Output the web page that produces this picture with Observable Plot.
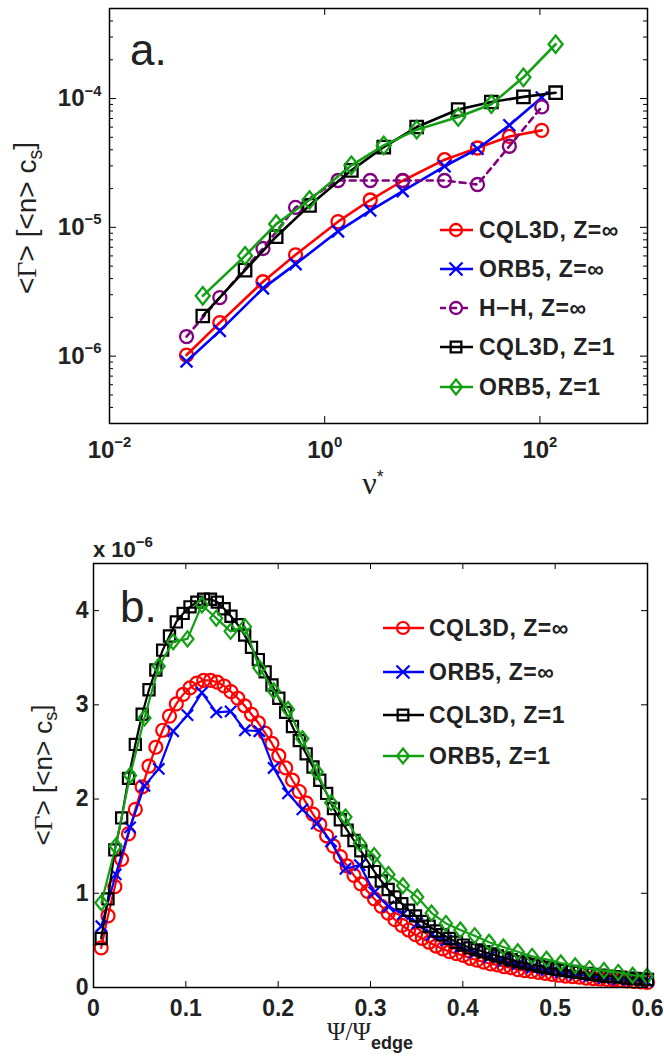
<!DOCTYPE html>
<html><head><meta charset="utf-8">
<script src="https://cdn.jsdelivr.net/npm/d3@7"></script>
<script src="https://cdn.jsdelivr.net/npm/@observablehq/plot@0.6"></script>
<style>
body{margin:0;background:#fff;}
#chart svg{display:block;}
</style></head><body><div id="chart"></div>
<script>
// ---------- Panel a data (log-log) ----------
const nuStar = [0.052, 0.106, 0.267, 0.536, 1.33, 2.65, 5.31, 13.0, 26.3, 52.0, 104];
const nuStarZ1 = [0.0736, 0.182, 0.354, 0.722, 1.77, 3.54, 7.16, 17.4, 35.4, 70.3, 140];
const cql3dInfA = [1.02e-6, 1.82e-6, 3.78e-6, 6.12e-6, 1.107e-5, 1.63e-5, 2.30e-5, 3.35e-5, 4.13e-5, 5.08e-5, 5.66e-5];
const orb5InfA = [9.1e-7, 1.57e-6, 3.36e-6, 5.18e-6, 9.31e-6, 1.35e-5, 1.91e-5, 2.98e-5, 4.07e-5, 6.2e-5, 1.02e-4];
const hhInfA = [1.42e-6, 2.85e-6, 6.85e-6, 1.43e-5, 2.31e-5, 2.31e-5, 2.31e-5, 2.31e-5, 2.15e-5, 4.26e-5, 8.61e-5];
const cql3dZ1A = [2.05e-6, 4.65e-6, 8.46e-6, 1.48e-5, 2.77e-5, 4.2e-5, 6.01e-5, 8.21e-5, 9.4e-5, 1.03e-4, 1.11e-4];
const orb5Z1A = [2.94e-6, 6.01e-6, 1.06e-5, 1.63e-5, 3.03e-5, 4.33e-5, 5.73e-5, 7.19e-5, 9.03e-5, 1.46e-4, 2.64e-4];
const aXTicks = [0.01, 1, 100];
const aYTicks = [1e-6, 1e-5, 1e-4];
const aYMinor = [3e-7,4e-7,5e-7,6e-7,7e-7,8e-7,9e-7,2e-6,3e-6,4e-6,5e-6,6e-6,7e-6,8e-6,9e-6,2e-5,3e-5,4e-5,5e-5,6e-5,7e-5,8e-5,9e-5,2e-4,3e-4,4e-4,5e-4];

// ---------- Panel b data (units of 1e-6) ----------
const psiFine = [0.0083,0.0157,0.0231,0.0305,0.0379,0.0453,0.0527,0.0601,0.0675,0.0749,
0.0823,0.0897,0.0971,0.1045,0.1119,0.1193,0.1267,0.1341,0.1415,0.1489,
0.1563,0.1637,0.1711,0.1785,0.1859,0.1933,0.2007,0.2081,0.2155,0.2229,
0.2303,0.2377,0.2451,0.2525,0.2599,0.2673,0.2747,0.2821,0.2895,0.2969,
0.3043,0.3117,0.3191,0.3265,0.3339,0.3413,0.3487,0.3561,0.3635,0.3709,
0.3783,0.3857,0.3931,0.4005,0.4079,0.4153,0.4227,0.4301,0.4375,0.4449,
0.4523,0.4597,0.4671,0.4745,0.4819,0.4893,0.4967,0.5041,0.5115,0.5189,
0.5263,0.5337,0.5411,0.5485,0.5559,0.5633,0.5707,0.5781,0.5855,0.5929,0.6];
const cql3dInfB = [0.42,0.76,1.07,1.36,1.63,1.89,2.13,2.35,2.55,2.73,
2.88,3.01,3.11,3.18,3.23,3.26,3.26,3.24,3.20,3.14,
3.07,2.99,2.90,2.81,2.70,2.59,2.46,2.33,2.20,2.08,
1.96,1.84,1.73,1.61,1.50,1.39,1.29,1.19,1.10,1.02,
0.94,0.86,0.79,0.72,0.66,0.61,0.56,0.52,0.48,0.44,
0.41,0.38,0.36,0.34,0.31,0.29,0.27,0.25,0.24,0.22,
0.21,0.19,0.18,0.17,0.16,0.15,0.14,0.13,0.12,0.115,
0.11,0.10,0.095,0.09,0.085,0.08,0.075,0.07,0.065,0.06,0.055];
const cql3dZ1B = [0.52,0.94,1.46,1.80,2.22,2.58,2.90,3.16,3.37,3.58,
3.73,3.88,3.97,4.04,4.09,4.12,4.12,4.09,4.02,3.94,
3.85,3.74,3.61,3.48,3.35,3.21,3.07,2.92,2.77,2.62,
2.48,2.34,2.20,2.06,1.90,1.78,1.67,1.56,1.45,1.34,
1.23,1.13,1.04,0.96,0.89,0.82,0.76,0.70,0.65,0.60,
0.56,0.52,0.48,0.45,0.42,0.40,0.38,0.355,0.335,0.315,
0.295,0.275,0.26,0.245,0.23,0.215,0.20,0.19,0.18,0.17,
0.16,0.15,0.14,0.13,0.12,0.115,0.11,0.10,0.095,0.09,0.085];
const psiCoarse = [0.0085,0.0241,0.0396,0.0552,0.0707,0.0863,0.1018,0.1174,0.1329,0.1485,
0.1640,0.1796,0.1951,0.2107,0.2262,0.2418,0.2573,0.2729,0.2884,0.3040,
0.3195,0.3351,0.3506,0.3662,0.3817,0.3973,0.4128,0.4284,0.4439,0.4595,
0.4750,0.4906,0.5061,0.5217,0.5372,0.5528,0.5683,0.5839,0.5994];
const orb5InfB = [0.65,1.20,1.70,2.14,2.32,2.72,2.89,3.13,2.92,2.93,
2.73,2.72,2.33,2.06,1.89,1.74,1.55,1.26,1.30,1.01,
0.86,0.78,0.68,0.56,0.50,0.43,0.37,0.32,0.28,0.245,
0.21,0.185,0.16,0.14,0.12,0.10,0.085,0.075,0.065];
const orb5Z1B = [0.90,1.50,2.25,2.86,3.41,3.67,3.70,4.06,3.92,3.78,
3.83,3.39,3.15,2.95,2.64,2.29,1.96,1.81,1.53,1.40,
1.20,1.08,0.96,0.79,0.68,0.61,0.55,0.48,0.43,0.38,
0.33,0.30,0.26,0.23,0.20,0.18,0.16,0.13,0.12];
const bXTicks = [0, 0.1, 0.2, 0.3, 0.4, 0.5, 0.6];
const bYTicks = [0, 1, 2, 3, 4];

const names = ["CQL3D, Z=\u221e", "ORB5, Z=\u221e", "H\u2212H, Z=\u221e", "CQL3D, Z=1", "ORB5, Z=1"];
const RED = "#ff0000", BLUE = "#0000ff", PURPLE = "#800080", BLACK = "#000000", GREEN = "#14a014";

const diamond = {draw(ctx, size) {
  const r = Math.sqrt(size / Math.PI), h = r * 1.25, w = r * 1.0;
  ctx.moveTo(0, -h); ctx.lineTo(w, 0); ctx.lineTo(0, h); ctx.lineTo(-w, 0); ctx.closePath();
}};

const zip = (xs, ys) => xs.map((x, i) => ({x, y: ys[i]}));
const FONT = "'Liberation Sans', Arial, Helvetica, sans-serif";
const SERIF = "'Liberation Serif', 'Times New Roman', serif";
const W = 664;

function supify(svg) {
  d3.select(svg).selectAll("text").each(function() {
    const m = /^10\^(-?\d+)$/.exec(this.textContent);
    if (m) {
      const s = d3.select(this); s.text("");
      s.append("tspan").text("10");
      s.append("tspan").attr("dy", "-0.72em").attr("font-size", "0.62em").text(m[1].replace("-", "\u2212"));
    }
  });
}

function seriesMarks(list, sw, msw) {
  const out = [];
  for (const s of list) {
    out.push(Plot.line(s.data, {x: "x", y: "y", stroke: s.color, strokeWidth: sw, strokeDasharray: s.dash || null}));
    out.push(Plot.dot(s.data, {x: "x", y: "y", symbol: s.symbol, r: s.r, stroke: s.color, fill: "none", strokeWidth: msw}));
  }
  return out;
}

function legend(svg, list, o) {
  const g = d3.select(svg).append("g").attr("text-anchor", "start");
  list.forEach((s, i) => {
    const y = o.ys[i];
    g.append("line").attr("x1", o.x0).attr("x2", o.x1).attr("y1", y).attr("y2", y)
      .attr("stroke", s.color).attr("stroke-width", o.sw).attr("stroke-dasharray", s.dash || null);
    const sym = s.symbol === "circle" ? d3.symbolCircle : s.symbol === "times" ? d3.symbolTimes : s.symbol === "square" ? d3.symbolSquare : s.symbol;
    g.append("path").attr("d", d3.symbol(sym, Math.PI * o.mr * o.mr)()).attr("transform", `translate(${o.xm},${y})`)
      .attr("fill", "none").attr("stroke", s.color).attr("stroke-width", o.msw);
    g.append("text").attr("x", o.xt).attr("y", y).attr("dy", "0.36em").attr("text-anchor", "start").attr("font-family", FONT)
      .attr("font-weight", "bold").attr("font-size", o.fs).attr("letter-spacing", "0.5px").attr("fill", "#222").text(s.name);
  });
}

function ylabel(svg, x, y, fs) {
  const t = d3.select(svg).append("text").attr("transform", `translate(${x},${y}) rotate(-90)`)
    .attr("text-anchor", "middle").attr("font-family", FONT).attr("font-weight", "normal")
    .attr("font-size", fs).attr("fill", "#222");
  t.append("tspan").text("<");
  t.append("tspan").attr("font-family", SERIF).text("\u0393");
  t.append("tspan").text("> [<n> c");
  t.append("tspan").attr("dy", "0.3em").attr("font-size", "0.7em").text("s");
  t.append("tspan").attr("dy", "-0.3em").text("]");
}

// ---------- Panel a ----------
const seriesA = [
  {name: names[0], data: zip(nuStar, cql3dInfA), color: RED, symbol: "circle", r: 6.5},
  {name: names[1], data: zip(nuStar, orb5InfA), color: BLUE, symbol: "times", r: 5.5},
  {name: names[2], data: zip(nuStar, hhInfA), color: PURPLE, symbol: "circle", r: 6.5, dash: "6,5"},
  {name: names[3], data: zip(nuStarZ1, cql3dZ1A), color: BLACK, symbol: "square", r: 7},
  {name: names[4], data: zip(nuStarZ1, orb5Z1A), color: GREEN, symbol: diamond, r: 7}
];
const aFW = 538, aFH = 415;
const plotA = Plot.plot({
  width: W, height: 480,
  marginLeft: 109, marginRight: 17, marginTop: 8, marginBottom: 57,
  style: {fontFamily: FONT, fontWeight: "bold", fontSize: "22px", color: "#222", background: "#fff", overflow: "visible"},
  x: {type: "log", domain: [0.01, 1000], axis: null},
  y: {type: "log", domain: [3e-7, 5e-4], axis: null},
  marks: [
    Plot.ruleX(aXTicks, {x: d => d, insetTop: aFH - 7, stroke: "#000"}),
    Plot.ruleX(aXTicks, {x: d => d, insetBottom: aFH - 7, stroke: "#000"}),
    Plot.ruleY(aYTicks, {y: d => d, insetRight: aFW - 7, stroke: "#000"}),
    Plot.ruleY(aYTicks, {y: d => d, insetLeft: aFW - 7, stroke: "#000"}),
    Plot.ruleY(aYMinor, {y: d => d, insetRight: aFW - 4, stroke: "#000"}),
    Plot.ruleY(aYMinor, {y: d => d, insetLeft: aFW - 4, stroke: "#000"}),
    Plot.axisX({ticks: aXTicks, tickSize: 0, tickPadding: 17, label: null, fontSize: 24, tickFormat: d => "10^" + Math.round(Math.log10(d))}),
    Plot.axisY({ticks: aYTicks, tickSize: 0, tickPadding: 8, label: null, fontSize: 24, tickFormat: d => "10^" + Math.round(Math.log10(d))}),
    ...seriesMarks(seriesA, 2.6, 2.3),
    Plot.frame({stroke: "#000", strokeWidth: 1.5})
  ]
});
supify(plotA);
legend(plotA, seriesA, {x0: 440, x1: 473, xm: 456, xt: 479, ys: [230, 269, 308, 347, 387], fs: 23, sw: 2.6, msw: 2.3, mr: 6});
ylabel(plotA, 36, 218, 28);
{
  const s = d3.select(plotA);
  s.append("text").attr("x", 130).attr("y", 65).attr("text-anchor", "start").attr("font-family", FONT).attr("font-weight", "normal")
    .attr("font-size", 44).attr("fill", "#222").text("a.");
  const t = s.append("text").attr("x", 373).attr("y", 494).attr("text-anchor", "middle")
    .attr("font-family", SERIF).attr("font-weight", "normal").attr("font-size", 32).attr("fill", "#222");
  t.append("tspan").text("\u03bd");
  t.append("tspan").attr("dy", "-0.6em").attr("font-size", "0.55em").attr("font-family", FONT).text("*");
}

// ---------- Panel b ----------
const seriesB = [
  {name: names[0], data: zip(psiFine, cql3dInfB), color: RED, symbol: "circle", r: 6.5},
  {name: names[1], data: zip(psiCoarse, orb5InfB), color: BLUE, symbol: "times", r: 5.2},
  {name: names[3], data: zip(psiFine, cql3dZ1B), color: BLACK, symbol: "square", r: 6.3},
  {name: names[4], data: zip(psiCoarse, orb5Z1B), color: GREEN, symbol: diamond, r: 6}
];
const bFW = 554, bFH = 424;
const plotB = Plot.plot({
  width: W, height: 577,
  marginLeft: 93, marginRight: 17, marginTop: 83, marginBottom: 70,
  style: {fontFamily: FONT, fontWeight: "bold", fontSize: "22px", color: "#222", background: "#fff", overflow: "visible"},
  x: {domain: [0, 0.6], axis: null},
  y: {domain: [0, 4.5], axis: null},
  marks: [
    Plot.ruleX(bXTicks, {x: d => d, insetTop: bFH - 6, stroke: "#000"}),
    Plot.ruleX(bXTicks, {x: d => d, insetBottom: bFH - 6, stroke: "#000"}),
    Plot.ruleY(bYTicks, {y: d => d, insetRight: bFW - 6, stroke: "#000"}),
    Plot.ruleY(bYTicks, {y: d => d, insetLeft: bFW - 6, stroke: "#000"}),
    Plot.axisX({ticks: bXTicks, tickSize: 0, tickPadding: 12, label: null, fontSize: 23, tickFormat: d => d === 0 ? "0" : d3.format(".1f")(d)}),
    Plot.axisY({ticks: bYTicks, tickSize: 0, tickPadding: 5, label: null, fontSize: 23, tickFormat: d => String(d)}),
    ...seriesMarks(seriesB, 2.2, 2.2),
    Plot.frame({stroke: "#000", strokeWidth: 1.5})
  ]
});
legend(plotB, seriesB, {x0: 383, x1: 424, xm: 403, xt: 429, ys: [148, 192, 235, 276], fs: 23, sw: 2.4, msw: 2.2, mr: 6});
ylabel(plotB, 52, 295, 26);
{
  const s = d3.select(plotB);
  s.append("text").attr("x", 120).attr("y", 142).attr("text-anchor", "start").attr("font-family", FONT).attr("font-weight", "normal")
    .attr("font-size", 44).attr("fill", "#222").text("b.");
  const e = s.append("text").attr("x", 93).attr("y", 77).attr("text-anchor", "start").attr("font-family", FONT).attr("font-weight", "bold")
    .attr("font-size", 22).attr("fill", "#222");
  e.append("tspan").text("x 10");
  e.append("tspan").attr("dy", "-0.7em").attr("font-size", "0.68em").text("\u22126");
  const t = s.append("text").attr("x", 370).attr("y", 560).attr("text-anchor", "middle")
    .attr("font-family", SERIF).attr("font-weight", "normal").attr("font-size", 25).attr("fill", "#222");
  t.append("tspan").text("\u03a8/\u03a8");
  t.append("tspan").attr("dy", "0.5em").attr("font-family", FONT).attr("font-weight", "bold").attr("font-size", 18).text("edge");
}

const chart = document.getElementById("chart");
chart.appendChild(plotA);
chart.appendChild(plotB);
</script>
</body></html>
